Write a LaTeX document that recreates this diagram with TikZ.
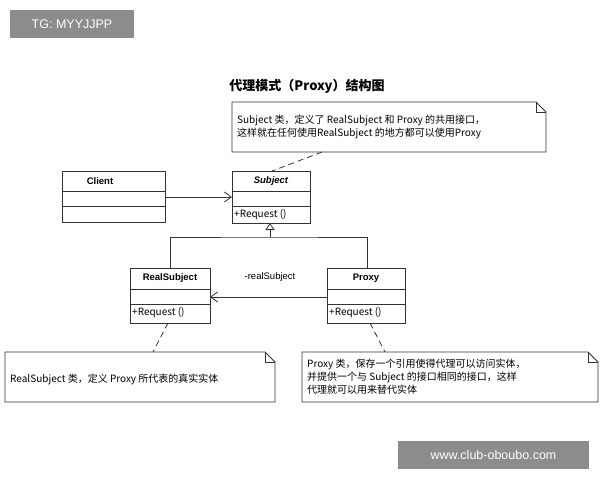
\documentclass[tikz,border=0pt]{standalone}
\usepackage{fontspec}
\setmainfont{Liberation Sans}
\newfontfamily\cjk{Noto Sans CJK SC}
\usetikzlibrary{arrows.meta}
\begin{document}
\begin{tikzpicture}[x=1pt,y=-1pt,
  line/.style={draw=black!80,line width=0.8pt},
  txt/.style={font=\cjk\fontsize{10}{13}\selectfont,inner sep=0pt,anchor=west,align=left},
  wm/.style={fill=black!45,text=white,font=\fontsize{12.5}{14}\selectfont,inner sep=0pt},
  open/.style={-{Straight Barb[length=7pt,width=10pt]}},
  gen/.style={-{Triangle[open,length=7pt,width=9pt,fill=white]}}]
\useasboundingbox (0,0) rectangle (600,480);
\fill[white] (0,0) rectangle (600,480);
% watermarks
\node[wm,minimum width=124pt,minimum height=28pt] (wm1) at (72,24) {TG: MYYJJPP};
\node[wm,minimum width=191pt,minimum height=28pt] (wm2) at (493.5,455) {www.club-oboubo.com};
% title
\node[font=\cjk\bfseries\fontsize{13}{15}\selectfont] (title) at (307,86) {代理模式（Proxy）结构图};
% notes
\draw[line] (232,102) -- (536,102) -- (546,112) -- (546,152) -- (232,152) -- cycle;
\draw[line] (536,102) -- (536,112) -- (546,112);
\node[txt] (n1) at (237,127) {Subject 类，定义了 RealSubject 和 Proxy 的共用接口，\\这样就在任何使用RealSubject 的地方都可以使用Proxy};
\coordinate (n1b) at (322,152);
\draw[line] (5,352) -- (265,352) -- (275,362) -- (275,402) -- (5,402) -- cycle;
\draw[line] (265,352) -- (265,362) -- (275,362);
\node[txt] (n2) at (10,379) {RealSubject 类，定义 Proxy 所代表的真实实体};
\coordinate (n2t) at (153,352);
\draw[line] (302,352) -- (588,352) -- (598,362) -- (598,402) -- (302,402) -- cycle;
\draw[line] (588,352) -- (588,362) -- (598,362);
\node[txt] (n3) at (307,377) {Proxy 类，保存一个引用使得代理可以访问实体，\\并提供一个与 Subject 的接口相同的接口，这样\\代理就可以用来替代实体};
\coordinate (n3t) at (385,352);
% classes
\draw[line] (62,171) rectangle (165,222) (62,191) -- (165,191) (62,206) -- (165,206);
\node[font=\bfseries\fontsize{9.5}{11}\selectfont] (client) at (100,181) {Client};
\draw[line] (232,171) rectangle (310,223) (232,191) -- (310,191) (232,206) -- (310,206);
\node[font=\bfseries\itshape\fontsize{9.5}{11}\selectfont] (subject) at (271,181) {Subject};
\node[txt] (sreq) at (234,214.5) {+Request ()};
\draw[line] (130,268) rectangle (210,323) (130,289) -- (210,289) (130,304) -- (210,304);
\node[font=\bfseries\fontsize{9.5}{11}\selectfont] (real) at (170,278.5) {RealSubject};
\node[txt] (rreq) at (132,313) {+Request ()};
\draw[line] (327,268) rectangle (405,323) (327,289) -- (405,289) (327,304) -- (405,304);
\node[font=\bfseries\fontsize{9.5}{11}\selectfont] (proxy) at (366,278.5) {Proxy};
\node[txt] (preq) at (329,313) {+Request ()};
% connectors
\coordinate (ca) at (165,197); \coordinate (sa) at (232,197);
\draw[line,open] (ca) -- (sa);
\coordinate (st) at (272,171);
\draw[line,dashed,dash pattern=on 6pt off 4pt] (n1b) -- (st);
\coordinate (sb) at (270,223); \coordinate (rt) at (170,268); \coordinate (pt) at (367,268);
\draw[line] (rt) |- (270,237) -| (pt);
\draw[line,gen] (270,237) -- (sb);
\coordinate (pa) at (327,297); \coordinate (ra) at (210,297);
\draw[line,open] (pa) -- (ra);
\node[font=\fontsize{9.5}{11}\selectfont] (assoc) at (270,277) {-realSubject};
\coordinate (rb) at (168,323); \coordinate (pb) at (370,323);
\draw[line,dashed,dash pattern=on 6pt off 4pt] (rb) -- (n2t);
\draw[line,dashed,dash pattern=on 6pt off 4pt] (pb) -- (n3t);
\end{tikzpicture}
\end{document}
